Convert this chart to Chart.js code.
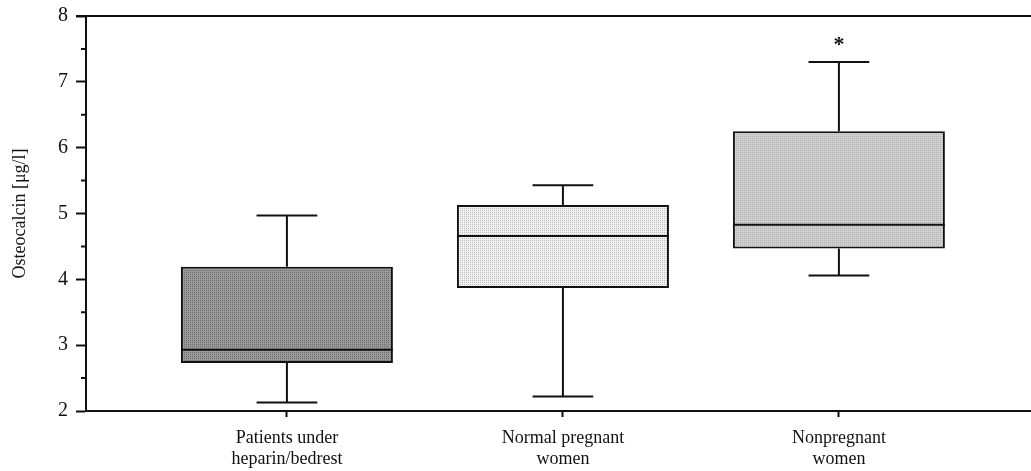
<!DOCTYPE html>
<html lang="en">
<head>
  <title>Osteocalcin</title>
  <meta charset="utf-8">
  <script src="https://cdn.jsdelivr.net/npm/chart.js"></script>
  <style>
    html, body { margin: 0; padding: 0; background: #fff; }
    .chart-container { width: 1031px; height: 471px; }
  </style>
</head>
<body>
<div class="chart-container">
  <canvas id="osteocalcin-chart"></canvas>
</div>
<script>
  // categories and box statistics (μg/l)
  const groups = [['Patients under', 'heparin/bedrest'], ['Normal pregnant', 'women'], ['Nonpregnant', 'women']];
  const positions = [1, 2, 3];
  const whiskerLow = [2.13, 2.22, 4.06];
  const q1 = [2.73, 3.87, 4.47];
  const median = [2.93, 4.66, 4.83];
  const q3 = [4.19, 5.13, 6.25];
  const whiskerHigh = [4.97, 5.43, 7.30];
  const marks = ['', '', '*'];
  const yTicks = [2, 3, 4, 5, 6, 7, 8];

  const FONT = '"Liberation Serif", "DejaVu Serif", serif';

  function stipple(base, dot) {
    const c = document.createElement('canvas');
    c.width = 2; c.height = 2;
    const g = c.getContext('2d');
    g.fillStyle = base;
    g.fillRect(0, 0, 2, 2);
    g.fillStyle = dot;
    g.fillRect(0, 0, 1, 1);
    return g.createPattern(c, 'repeat');
  }

  const canvas = document.getElementById('osteocalcin-chart');
  const fills = [stipple('#9a9a9a', '#6c6c6c'), stipple('#f0f0f0', '#c0c0c0'), stipple('#d0d0d0', '#b0b0b0')];

  const boxExtras = {
    id: 'boxExtras',
    afterDatasetsDraw: (chart) => {
      const { ctx, chartArea, scales: { x, y } } = chart;
      const meta = chart.getDatasetMeta(0);
      ctx.save();
      ctx.strokeStyle = '#111';
      ctx.lineWidth = 2;
      ctx.lineCap = 'butt';
      positions.forEach((p, i) => {
        const cx = x.getPixelForValue(p);
        const half = meta.data[i].width / 2;
        const cap = x.getPixelForValue(p + 0.11) - cx;
        const yLo = y.getPixelForValue(whiskerLow[i]);
        const yHi = y.getPixelForValue(whiskerHigh[i]);
        const yQ1 = y.getPixelForValue(q1[i]);
        const yQ3 = y.getPixelForValue(q3[i]);
        const yMed = y.getPixelForValue(median[i]);
        ctx.beginPath();
        // whiskers
        ctx.moveTo(cx, yQ1); ctx.lineTo(cx, yLo);
        ctx.moveTo(cx, yQ3); ctx.lineTo(cx, yHi);
        ctx.moveTo(cx - cap, yLo); ctx.lineTo(cx + cap, yLo);
        ctx.moveTo(cx - cap, yHi); ctx.lineTo(cx + cap, yHi);
        // median
        ctx.moveTo(cx - half, yMed); ctx.lineTo(cx + half, yMed);
        ctx.stroke();
        if (marks[i]) {
          ctx.fillStyle = '#111';
          ctx.font = 'bold 22px ' + FONT;
          ctx.textAlign = 'center';
          ctx.textBaseline = 'middle';
          ctx.fillText(marks[i], cx, yHi - 17);
        }
      });
      // top frame line
      ctx.beginPath();
      ctx.moveTo(chartArea.left - 10, chartArea.top);
      ctx.lineTo(chartArea.right, chartArea.top);
      ctx.stroke();
      // minor y ticks
      ctx.beginPath();
      for (let v = yTicks[0] + 0.5; v < yTicks[yTicks.length - 1]; v += 1) {
        const py = y.getPixelForValue(v);
        ctx.moveTo(chartArea.left - 5, py); ctx.lineTo(chartArea.left, py);
      }
      ctx.stroke();
      ctx.restore();
    }
  };

  new Chart(canvas, {
    type: 'bar',
    data: {
      datasets: [{
        data: positions.map((p, i) => ({ x: p, y: [q1[i], q3[i]] })),
        backgroundColor: fills,
        borderColor: '#111',
        borderWidth: 2,
        borderSkipped: false,
        categoryPercentage: 1,
        barPercentage: 0.768,
      }]
    },
    options: {
      responsive: true,
      maintainAspectRatio: false,
      animation: false,
      layout: { padding: { top: 16, right: 0, left: 0, bottom: 0 } },
      plugins: {
        legend: { display: false },
        tooltip: { enabled: false },
      },
      scales: {
        x: {
          type: 'linear',
          offset: false,
          min: 0.272,
          max: 3.696,
          afterBuildTicks: (scale) => { scale.ticks = positions.map(v => ({ value: v })); },
          afterFit: (scale) => { scale.height = 60; scale.paddingLeft = 0; scale.paddingRight = 0; },
          grid: { offset: false, drawOnChartArea: false, tickLength: 6, tickColor: '#111', tickWidth: 2 },
          border: { display: true, color: '#111', width: 2 },
          ticks: {
            color: '#111',
            padding: 10,
            maxRotation: 0,
            autoSkip: false,
            font: { family: FONT, size: 18, lineHeight: 1.2 },
            callback: (v) => groups[positions.indexOf(v)] || '',
          }
        },
        y: {
          min: yTicks[0],
          max: yTicks[yTicks.length - 1],
          afterBuildTicks: (scale) => { scale.ticks = yTicks.map(v => ({ value: v })); },
          afterFit: (scale) => { scale.width = 86; scale.paddingTop = 0; scale.paddingBottom = 0; },
          grid: { drawOnChartArea: false, tickLength: 10, tickColor: '#111', tickWidth: 2 },
          border: { display: true, color: '#111', width: 2 },
          title: {
            display: true,
            text: 'Osteocalcin [μg/l]',
            color: '#111',
            font: { family: FONT, size: 18 },
            padding: { top: 9, bottom: 0 },
          },
          ticks: {
            color: '#111',
            padding: 8,
            font: { family: FONT, size: 20 },
          }
        }
      }
    },
    plugins: [boxExtras]
  });
</script>
</body>
</html>
